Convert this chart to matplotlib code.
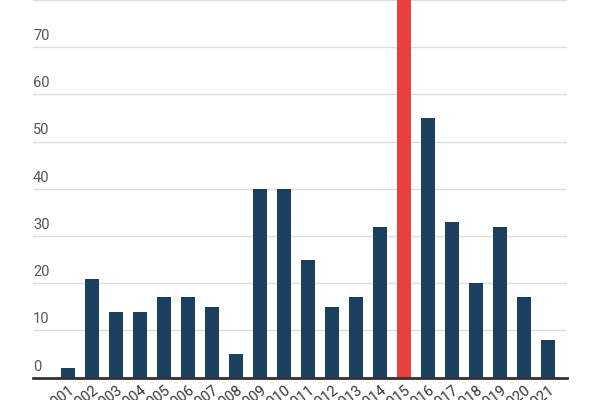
import matplotlib.pyplot as plt

plt.rcParams['font.family'] = ['Roboto', 'DejaVu Sans']

# values
years = [str(y) for y in range(2001, 2022)]
counts = [2, 21, 14, 14, 17, 17, 15, 5, 40, 40, 25, 15, 17, 32, 95, 55, 33, 20, 32, 17, 8]
highlight_year = '2015'
y_ticks = [0, 10, 20, 30, 40, 50, 60, 70, 80]

navy = '#1b3f5f'
red = '#e8413d'
colors = [red if y == highlight_year else navy for y in years]

fig = plt.figure(figsize=(6, 4), dpi=100)
ax = fig.add_axes([33 / 600, 22.3 / 400, 534 / 600, 377.7 / 400])

x = list(range(len(years)))
ax.bar(x, counts, width=0.58, color=colors, zorder=3)

ax.set_xlim(-1.46, len(years) - 1 + 0.79)
ax.set_ylim(0, 79.2)

# light horizontal grid lines with the labels sitting on top of them
ax.set_yticks(y_ticks)
ax.yaxis.grid(True, color='#dddddd', linewidth=1, zorder=0)
ax.tick_params(axis='y', length=0, labelleft=False)
for v in y_ticks[:-1]:
    ax.annotate(str(v), xy=(0, v), xycoords=('axes fraction', 'data'),
                xytext=(0, 3), textcoords='offset points',
                ha='left', va='bottom', fontsize=10.5, color='#555555')

ax.set_xticks(x)
ax.set_xticklabels(years, rotation=38, ha='right', va='top',
                   rotation_mode='anchor', fontsize=10.5, color='#333333')
ax.tick_params(axis='x', length=0, pad=4)

for side in ['top', 'right', 'left']:
    ax.spines[side].set_visible(False)
ax.spines['bottom'].set_color('#333333')
ax.spines['bottom'].set_linewidth(2)
ax.spines['bottom'].set_zorder(4)

fig.savefig('out.png', dpi=100)
